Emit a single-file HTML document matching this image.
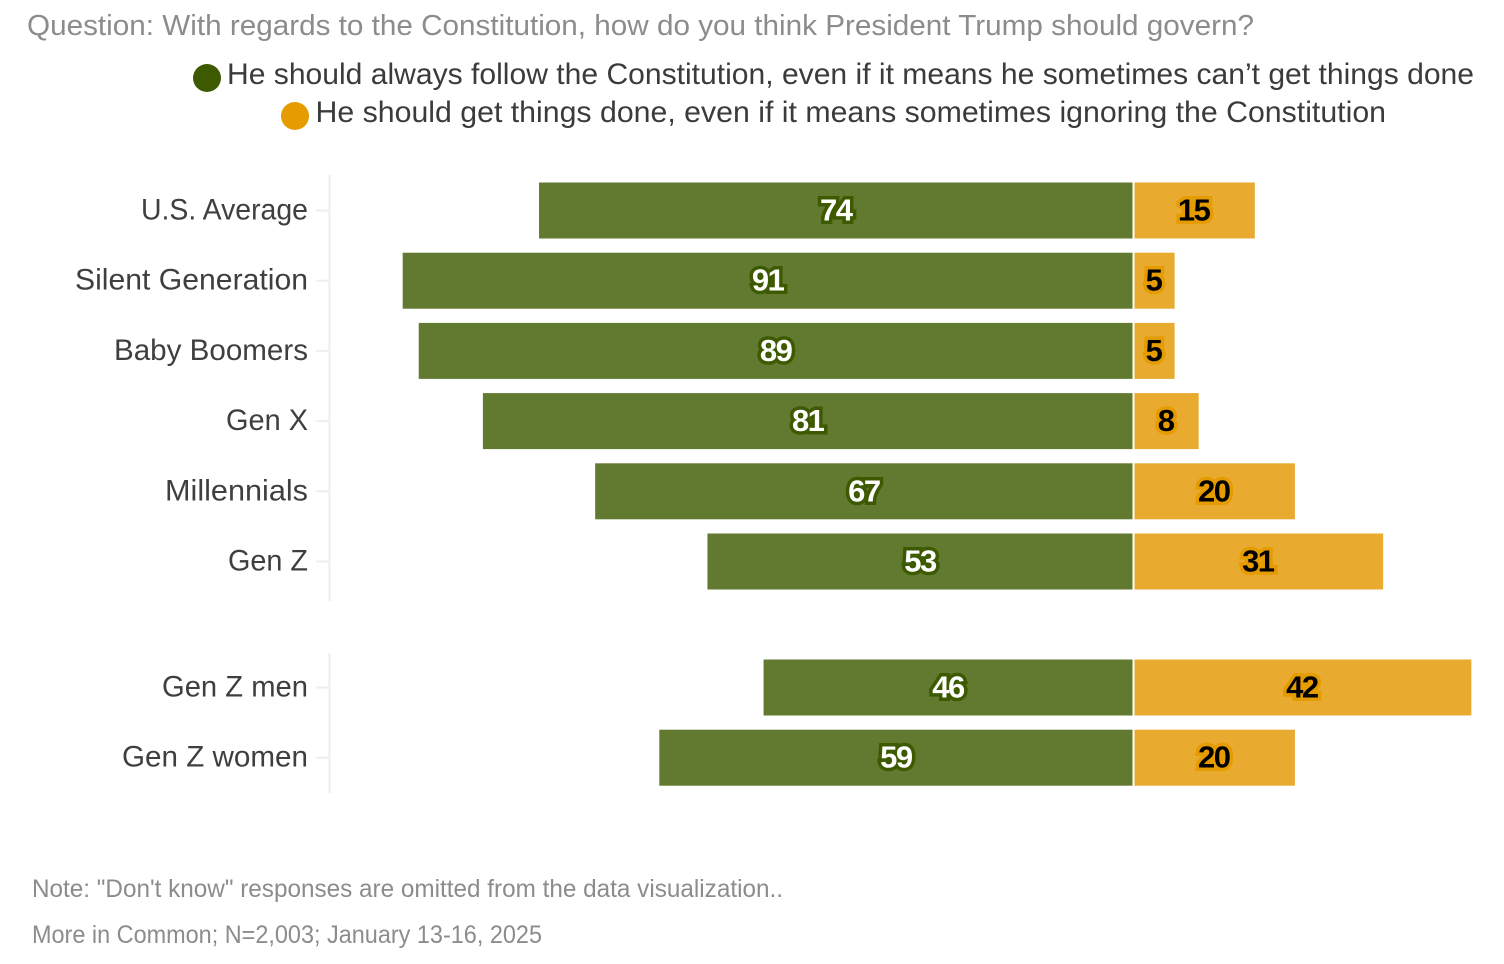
<!DOCTYPE html>
<html lang="en">
<head>
<meta charset="utf-8">
<title>How President Trump should govern</title>
<style>
  html, body { margin: 0; padding: 0; background: #fff; }
  body { width: 1504px; height: 964px; overflow: hidden; }
  svg { display: block; font-family: "Liberation Sans", sans-serif; }
  .value-label { font-size: 31px; font-weight: 700; text-anchor: middle; paint-order: stroke; stroke-width: 7px; stroke-linejoin: miter; stroke-miterlimit: 2; letter-spacing: -1.5px; }
  .tick-label { font-size: 30px; fill: #3f3f3f; text-anchor: end; }
</style>
</head>
<body>
<svg id="chart" width="1504" height="964" viewBox="0 0 1504 964" xmlns="http://www.w3.org/2000/svg">
  <text x="27" y="35" font-size="29" fill="#8c8c8c" textLength="1227" lengthAdjust="spacingAndGlyphs">Question: With regards to the Constitution, how do you think President Trump should govern?</text>
  <g>
    <circle cx="207" cy="78" r="14" fill="#3d5a00"/>
    <text x="227" y="84" font-size="30" fill="#3b3b3b" textLength="1247" lengthAdjust="spacingAndGlyphs">He should always follow the Constitution, even if it means he sometimes can’t get things done</text>
    <circle cx="295" cy="116" r="14" fill="#e59c00"/>
    <text x="315.5" y="122" font-size="30" fill="#3b3b3b" textLength="1070.5" lengthAdjust="spacingAndGlyphs">He should get things done, even if it means sometimes ignoring the Constitution</text>
  </g>
  <g id="plot"></g>
  <text x="32" y="897" font-size="25" fill="#8c8c8c" textLength="751" lengthAdjust="spacingAndGlyphs">Note: "Don't know" responses are omitted from the data visualization..</text>
  <text x="32" y="943" font-size="25" fill="#8c8c8c" textLength="510" lengthAdjust="spacingAndGlyphs">More in Common; N=2,003; January 13-16, 2025</text>
</svg>
<script>
const generationCategories = ["U.S. Average", "Silent Generation", "Baby Boomers", "Gen X", "Millennials", "Gen Z"];
const generationFollow = [74, 91, 89, 81, 67, 53];
const generationDone = [15, 5, 5, 8, 20, 31];

const genderCategories = ["Gen Z men", "Gen Z women"];
const genderFollow = [46, 59];
const genderDone = [42, 20];

const SVG_NS = "http://www.w3.org/2000/svg";
const plot = document.getElementById("plot");
const zeroLeft = 1132.5;
const zeroRight = 1134.5;
const unit = 8.02;
const barHeight = 56;
const step = 70.2;

// Typographic compensation: the substitute font's widths differ per label.
const tickLabelFit = {
  "U.S. Average": 167,
  "Silent Generation": 233,
  "Baby Boomers": 194,
  "Gen X": 82,
  "Millennials": 143,
  "Gen Z": 80,
  "Gen Z men": 146,
  "Gen Z women": 186
};

function xLeft(v) { return zeroLeft - v * unit; }
function xRight(v) { return zeroRight + v * unit; }

function make(tag, attrs, parent) {
  const el = document.createElementNS(SVG_NS, tag);
  for (const k in attrs) el.setAttribute(k, attrs[k]);
  parent.appendChild(el);
  return el;
}

function drawPanel(panelName, categories, follow, done, top, axisTop, axisBottom) {
  const panel = make("g", {}, plot);
  
  

  const axis = make("line", { x1: 329.5, x2: 329.5, y1: axisTop, y2: axisBottom, stroke: "#eeeeee", "stroke-width": 2 }, panel);
  
  

  categories.forEach(function (cat, i) {
    const y = top + i * step;
    const mid = y + barHeight / 2;
    const slug = cat.toLowerCase().replace(/[^a-z0-9]+/g, "-");

    const tick = make("line", { x1: 316, x2: 329, y1: mid, y2: mid, stroke: "#eeeeee", "stroke-width": 2 }, panel);
    
    

    const label = make("text", { x: 308, y: mid + 9, class: "tick-label", textLength: tickLabelFit[cat], lengthAdjust: "spacingAndGlyphs" }, panel);
    label.textContent = cat;
    
    

    const barA = make("rect", { x: xLeft(follow[i]), y: y, width: zeroLeft - xLeft(follow[i]), height: barHeight, fill: "#627a30" }, panel);
    
    

    const barB = make("rect", { x: zeroRight, y: y, width: xRight(done[i]) - zeroRight, height: barHeight, fill: "#e8aa2f" }, panel);
    
    

    const valA = make("text", { x: (xLeft(follow[i]) + zeroLeft) / 2, y: mid + 10, class: "value-label", fill: "#ffffff", stroke: "#3d5a00" }, panel);
    valA.textContent = follow[i];
    
    

    const valB = make("text", { x: (xRight(done[i]) + zeroRight) / 2 - 1, y: mid + 10, class: "value-label", fill: "#000000", stroke: "#e59c00" }, panel);
    valB.textContent = done[i];
    
    
  });
}

drawPanel("generation-panel", generationCategories, generationFollow, generationDone, 182.5, 175, 601);
drawPanel("gender-panel", genderCategories, genderFollow, genderDone, 659.5, 653, 793);
</script>
</body>
</html>
